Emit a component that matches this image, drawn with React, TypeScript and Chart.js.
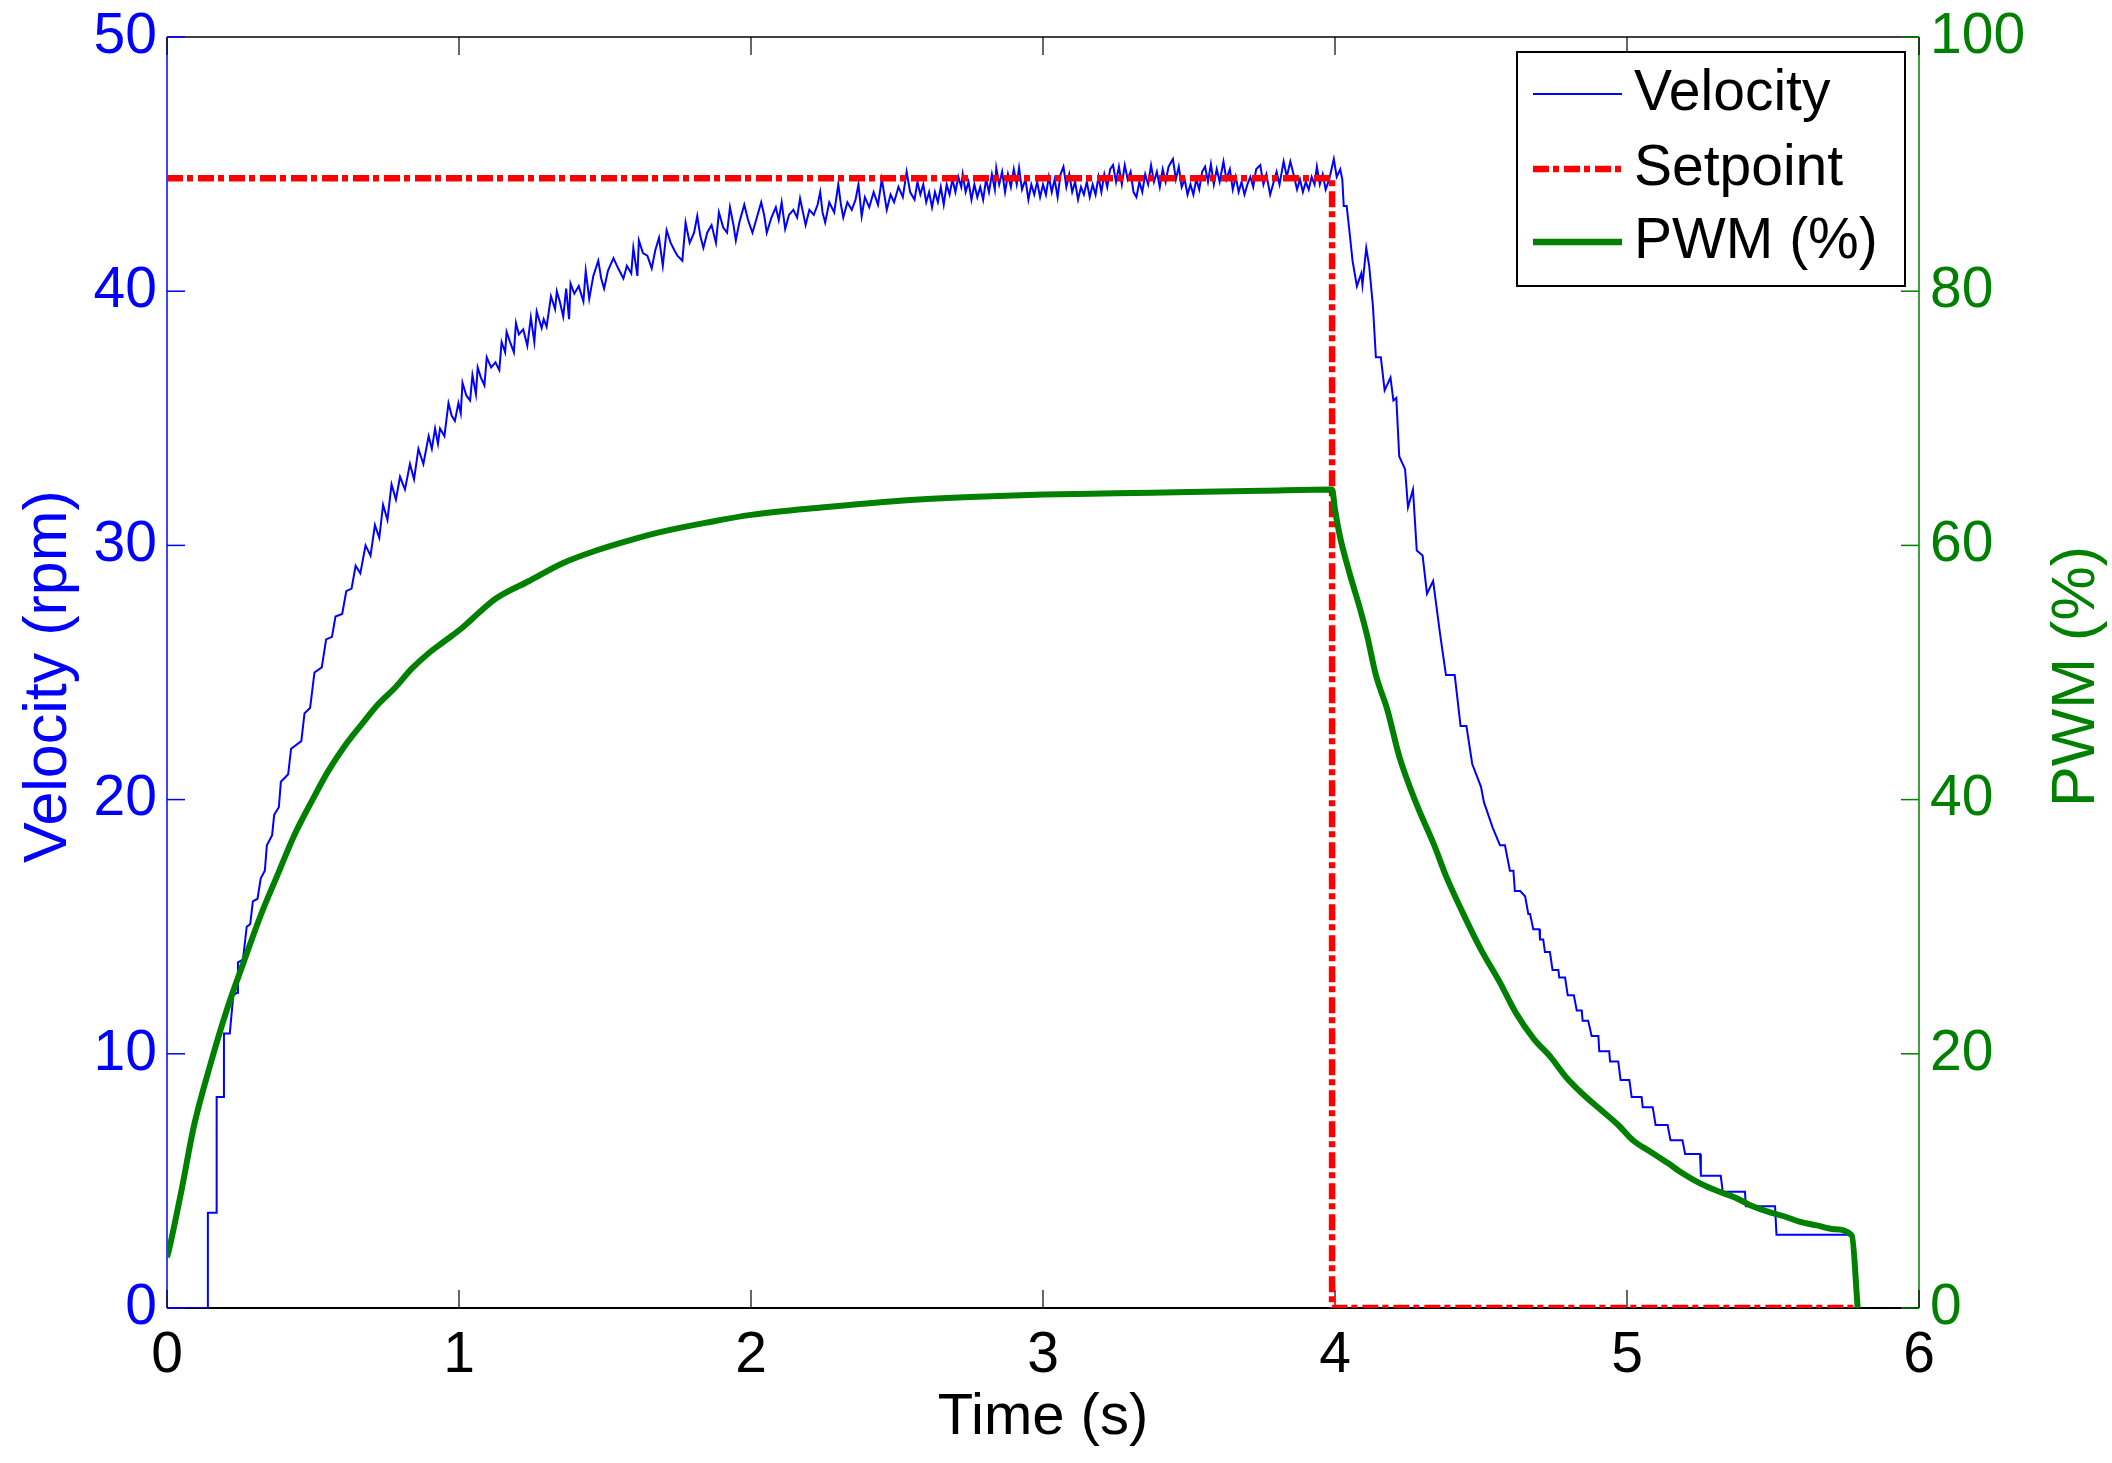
import React, { useEffect, useRef } from 'react';
import { Chart, registerables } from 'chart.js';

Chart.register(...registerables);

const FONT = "'Liberation Sans', Arial, Helvetica, sans-serif";
const FONT_SIZE = 57;
const BLUE = 'rgb(0,0,255)';
const RED = 'rgb(255,0,0)';
const GREEN = 'rgb(0,128,0)';

// tick values
const timeTicks = [0, 1, 2, 3, 4, 5, 6];
const velocityTicks = [0, 10, 20, 30, 40, 50];
const pwmTicks = [0, 20, 40, 60, 80, 100];

const seriesLabels = ['Velocity', 'Setpoint', 'PWM (%)'];

// [time (s), velocity (rpm)]
const velocity: [number, number][] = [
  [0, 0], [0.14, 0], [0.14, 3.75], [0.17, 3.75], [0.17, 8.3], [0.195, 8.3], [0.195, 10.8],
  [0.215, 10.8], [0.227, 12.3], [0.24, 12.4], [0.243, 13.6], [0.26, 13.7], [0.273, 15.0],
  [0.285, 15.1], [0.294, 16.0], [0.31, 16.1], [0.321, 16.9], [0.335, 17.2], [0.342, 18.2],
  [0.36, 18.6], [0.367, 19.4], [0.383, 19.7], [0.39, 20.7], [0.415, 21.0], [0.425, 22.0],
  [0.46, 22.3], [0.471, 23.4], [0.49, 23.6], [0.505, 25.0], [0.53, 25.2], [0.545, 26.3],
  [0.565, 26.4], [0.577, 27.2], [0.6, 27.3], [0.614, 28.2], [0.632, 28.3], [0.646, 29.2],
  [0.662, 28.9], [0.68, 30.0], [0.697, 29.6], [0.712, 30.8], [0.727, 30.3], [0.74, 31.6],
  [0.755, 31.0], [0.769, 32.4], [0.784, 31.8], [0.798, 32.7], [0.815, 32.2], [0.832, 33.2],
  [0.846, 32.6], [0.861, 33.8], [0.878, 33.2], [0.896, 34.3], [0.907, 33.8], [0.918, 34.6],
  [0.928, 34.0], [0.935, 34.6], [0.95, 34.3], [0.964, 35.6], [0.975, 35.1], [0.986, 34.9],
  [0.998, 35.6], [1.006, 35.2], [1.012, 36.4], [1.025, 35.9], [1.038, 35.7], [1.046, 36.7],
  [1.058, 35.95], [1.064, 37.0], [1.075, 36.6], [1.087, 36.3], [1.095, 37.4], [1.11, 37.0],
  [1.125, 37.2], [1.138, 36.9], [1.146, 38.0], [1.158, 37.6], [1.163, 38.4], [1.175, 38.0],
  [1.188, 37.6], [1.195, 38.75], [1.205, 38.3], [1.22, 38.5], [1.234, 37.85], [1.246, 38.96],
  [1.258, 38.0], [1.266, 39.2], [1.283, 38.55], [1.29, 38.9], [1.3, 38.6], [1.315, 39.8],
  [1.329, 39.3], [1.335, 40.0], [1.345, 39.6], [1.357, 39.0], [1.367, 40.1], [1.377, 38.9],
  [1.382, 40.3], [1.395, 39.9], [1.41, 40.2], [1.426, 39.6], [1.434, 40.8], [1.446, 39.7],
  [1.46, 40.6], [1.477, 41.2], [1.487, 40.5], [1.497, 40.1], [1.51, 40.8], [1.529, 41.3],
  [1.545, 40.9], [1.563, 40.5], [1.575, 41.0], [1.59, 40.7], [1.597, 41.7], [1.611, 40.6],
  [1.616, 42.0], [1.63, 41.5], [1.645, 41.4], [1.66, 40.9], [1.672, 41.6], [1.685, 42.1],
  [1.698, 41.0], [1.711, 42.4], [1.725, 41.9], [1.738, 41.6], [1.748, 41.4], [1.765, 41.2],
  [1.776, 42.7], [1.79, 41.9], [1.805, 42.3], [1.816, 42.96], [1.826, 42.2], [1.837, 41.7],
  [1.85, 42.3], [1.865, 42.6], [1.88, 41.9], [1.89, 43.1], [1.905, 42.5], [1.918, 42.3],
  [1.928, 43.3], [1.94, 42.6], [1.948, 42.0], [1.96, 42.7], [1.977, 43.4], [1.99, 42.8],
  [2.005, 42.3], [2.02, 42.9], [2.035, 43.5], [2.045, 43.0], [2.054, 42.3], [2.07, 42.9],
  [2.085, 43.3], [2.095, 42.8], [2.105, 43.5], [2.117, 42.45], [2.13, 43.0], [2.145, 43.2],
  [2.158, 42.9], [2.168, 43.65], [2.178, 43.1], [2.187, 42.6], [2.2, 43.2], [2.215, 43.0],
  [2.228, 43.4], [2.237, 43.9], [2.245, 43.1], [2.254, 42.7], [2.268, 43.5], [2.285, 43.1],
  [2.299, 44.2], [2.308, 43.4], [2.316, 42.9], [2.33, 43.5], [2.345, 43.2], [2.358, 43.6],
  [2.368, 44.2], [2.379, 42.95], [2.39, 43.7], [2.405, 43.3], [2.42, 43.9], [2.435, 43.4],
  [2.448, 44.4], [2.465, 43.2], [2.478, 43.8], [2.49, 43.5], [2.505, 44.1], [2.52, 43.7],
  [2.533, 44.7], [2.545, 43.9], [2.56, 43.6], [2.57, 44.3], [2.58, 43.8], [2.59, 44.2],
  [2.6, 43.5], [2.61, 43.9], [2.62, 43.3], [2.63, 43.9], [2.64, 43.5], [2.65, 44.1],
  [2.66, 43.4], [2.67, 44.2], [2.68, 43.8], [2.69, 44.4], [2.7, 43.9], [2.71, 44.5],
  [2.72, 44.1], [2.725, 44.6], [2.735, 43.9], [2.745, 44.3], [2.755, 43.6], [2.765, 44.2],
  [2.775, 43.7], [2.785, 44.1], [2.795, 43.6], [2.805, 44.4], [2.815, 43.9], [2.825, 44.6],
  [2.835, 44.0], [2.84, 44.85], [2.85, 44.2], [2.86, 44.7], [2.87, 43.9], [2.88, 44.6],
  [2.89, 44.1], [2.9, 44.8], [2.91, 44.2], [2.918, 44.85], [2.928, 44.0], [2.94, 44.4],
  [2.95, 43.6], [2.96, 44.2], [2.97, 43.8], [2.98, 44.3], [2.99, 43.7], [3.0, 44.2],
  [3.01, 43.8], [3.02, 44.5], [3.03, 43.9], [3.04, 44.4], [3.05, 43.7], [3.06, 44.6],
  [3.07, 44.9], [3.08, 44.1], [3.09, 44.6], [3.1, 43.9], [3.11, 44.3], [3.12, 43.6],
  [3.13, 44.1], [3.14, 43.8], [3.15, 44.3], [3.16, 43.7], [3.17, 44.2], [3.18, 43.8],
  [3.19, 44.5], [3.2, 43.9], [3.21, 44.6], [3.22, 44.1], [3.23, 44.8], [3.24, 44.96],
  [3.25, 44.3], [3.26, 44.9], [3.27, 44.2], [3.28, 44.96], [3.29, 44.4], [3.3, 44.7],
  [3.31, 43.9], [3.32, 43.7], [3.33, 44.3], [3.34, 43.9], [3.35, 44.6], [3.36, 44.2],
  [3.37, 44.96], [3.38, 44.3], [3.39, 44.7], [3.4, 44.1], [3.41, 44.8], [3.42, 44.3],
  [3.43, 44.9], [3.445, 45.2], [3.455, 44.4], [3.465, 44.9], [3.475, 44.1], [3.485, 44.4],
  [3.495, 43.8], [3.505, 44.2], [3.515, 43.8], [3.525, 44.4], [3.535, 44.0], [3.545, 44.7],
  [3.555, 44.9], [3.565, 44.3], [3.575, 45.0], [3.585, 44.2], [3.595, 44.8], [3.605, 44.3],
  [3.618, 45.1], [3.628, 44.4], [3.64, 44.8], [3.65, 44.0], [3.66, 44.5], [3.67, 43.9],
  [3.68, 44.3], [3.69, 43.8], [3.7, 44.2], [3.71, 44.5], [3.72, 44.1], [3.73, 44.8],
  [3.744, 44.96], [3.755, 44.2], [3.765, 44.6], [3.778, 43.8], [3.79, 44.3], [3.8, 44.7],
  [3.81, 44.2], [3.824, 45.1], [3.835, 44.5], [3.847, 45.1], [3.858, 44.6], [3.87, 44.0],
  [3.88, 44.4], [3.89, 43.9], [3.9, 44.3], [3.91, 44.0], [3.92, 44.5], [3.93, 44.2],
  [3.938, 44.9], [3.948, 44.2], [3.958, 44.6], [3.968, 44.0], [3.98, 44.4], [3.996, 45.2],
  [4.006, 44.5], [4.018, 44.8], [4.025, 44.4], [4.03, 43.35], [4.04, 43.35], [4.05, 42.3],
  [4.06, 41.2], [4.075, 40.2], [4.09, 40.7], [4.094, 40.25], [4.107, 41.7], [4.117, 41.0],
  [4.13, 39.4], [4.14, 37.4], [4.157, 37.4], [4.17, 36.1], [4.19, 36.6], [4.2, 35.7],
  [4.21, 35.8], [4.22, 33.5], [4.24, 33.0], [4.25, 31.5], [4.267, 32.2], [4.28, 29.8],
  [4.3, 29.6], [4.315, 28.1], [4.336, 28.6], [4.36, 26.5], [4.38, 24.9], [4.41, 24.9],
  [4.43, 22.9], [4.45, 22.9], [4.47, 21.4], [4.5, 20.5], [4.51, 19.9], [4.54, 18.9],
  [4.565, 18.2], [4.582, 18.2], [4.599, 17.2], [4.611, 17.2], [4.616, 16.4], [4.634, 16.4],
  [4.651, 16.2], [4.662, 15.5], [4.668, 15.5], [4.679, 14.9], [4.7, 14.9], [4.702, 14.5],
  [4.713, 14.5], [4.719, 14.0], [4.736, 14.0], [4.745, 13.3], [4.765, 13.3], [4.768, 13.0],
  [4.788, 13.0], [4.797, 12.3], [4.818, 12.3], [4.828, 11.7], [4.845, 11.7], [4.848, 11.3],
  [4.867, 11.3], [4.879, 10.7], [4.902, 10.7], [4.905, 10.1], [4.939, 10.1], [4.942, 9.7],
  [4.97, 9.7], [4.978, 8.97], [5.008, 8.97], [5.016, 8.3], [5.05, 8.3], [5.054, 7.9],
  [5.088, 7.9], [5.098, 7.2], [5.139, 7.2], [5.149, 6.6], [5.19, 6.6], [5.199, 6.06],
  [5.25, 6.06], [5.253, 5.2], [5.321, 5.2], [5.328, 4.57], [5.404, 4.57], [5.407, 4.0],
  [5.507, 4.0], [5.512, 2.88], [5.77, 2.88],
];

// [time (s), setpoint (rpm)]
const setpoint: [number, number][] = [
  [0, 44.44], [3.99, 44.44], [3.99, 0], [5.79, 0],
];

// [time (s), PWM (%)]
const pwm: [number, number][] = [
  [0, 4.0], [0.006, 4.5], [0.05, 9.3], [0.092, 14.3], [0.149, 19.2], [0.207, 23.6],
  [0.264, 27.3], [0.321, 30.9], [0.379, 34.1], [0.436, 37.2], [0.494, 39.8], [0.551, 42.2],
  [0.608, 44.2], [0.666, 45.9], [0.723, 47.5], [0.781, 48.8], [0.838, 50.3], [0.895, 51.5],
  [0.953, 52.5], [1.01, 53.5], [1.068, 54.7], [1.125, 55.8], [1.24, 57.2], [1.355, 58.6],
  [1.47, 59.6], [1.584, 60.4], [1.7, 61.1], [1.85, 61.8], [2.0, 62.4], [2.25, 63.0],
  [2.5, 63.5], [2.75, 63.8], [3.0, 64.0], [3.25, 64.1], [3.5, 64.2], [3.75, 64.3],
  [3.99, 64.4], [4.0, 62.8], [4.017, 60.7], [4.05, 57.8], [4.086, 55.0], [4.11, 52.9],
  [4.14, 49.8], [4.18, 47.0], [4.22, 43.4], [4.28, 39.6], [4.34, 36.4], [4.38, 34.0],
  [4.45, 30.5], [4.5, 28.2], [4.565, 25.6], [4.62, 23.2], [4.68, 21.2], [4.74, 19.7],
  [4.79, 18.2], [4.85, 16.8], [4.91, 15.6], [4.97, 14.4], [5.02, 13.2], [5.08, 12.3],
  [5.14, 11.4], [5.19, 10.6], [5.25, 9.8], [5.31, 9.2], [5.37, 8.7], [5.42, 8.1],
  [5.48, 7.6], [5.54, 7.2], [5.59, 6.8], [5.65, 6.5], [5.71, 6.2], [5.77, 5.7], [5.79, 0],
];

const toPoints = (arr: [number, number][]) => arr.map(([x, y]) => ({ x, y }));

const font = { family: FONT, size: FONT_SIZE };
// small line height on the y ticks so they don't push the plot area down
const yFont = { family: FONT, size: FONT_SIZE, lineHeight: 0.8 };

// axis box with inward ticks, matlab style
const framePlugin = {
  id: 'matlabFrame',
  beforeDatasetsDraw(chart: any) {
    const { ctx, chartArea: a, scales } = chart;
    const T = 18;
    const seg = (x1: number, y1: number, x2: number, y2: number, c: string, w: number) => {
      ctx.beginPath();
      ctx.strokeStyle = c;
      ctx.lineWidth = w;
      ctx.moveTo(x1, y1);
      ctx.lineTo(x2, y2);
      ctx.stroke();
    };
    ctx.save();
    ctx.lineCap = 'butt';
    seg(a.left, a.top, a.right, a.top, '#000', 1.5);
    seg(a.left, a.bottom, a.right, a.bottom, '#000', 2);
    seg(a.left, a.top, a.left, a.bottom, BLUE, 1.5);
    seg(a.right, a.top, a.right, a.bottom, GREEN, 1.5);
    timeTicks.forEach((t) => {
      const x = scales.x.getPixelForValue(t);
      seg(x, a.bottom, x, a.bottom - T, '#000', 1.2);
      seg(x, a.top, x, a.top + T, '#000', 1.2);
    });
    velocityTicks.forEach((v) => {
      const y = scales.y.getPixelForValue(v);
      seg(a.left, y, a.left + T, y, BLUE, 1.5);
    });
    pwmTicks.forEach((v) => {
      const y = scales.y2.getPixelForValue(v);
      seg(a.right, y, a.right - T, y, GREEN, 1.5);
    });
    ctx.restore();
  },
  afterDraw(chart: any) {
    const { ctx, chartArea: a } = chart;
    ctx.save();
    ctx.textBaseline = 'middle';
    ctx.textAlign = 'center';

    // axis titles
    ctx.font = `58px ${FONT}`;
    ctx.fillStyle = '#000';
    ctx.fillText('Time (s)', (a.left + a.right) / 2, a.bottom + 110);
    ctx.font = `61px ${FONT}`;
    const midY = (a.top + a.bottom) / 2 + 4;
    ctx.save();
    ctx.translate(49, midY);
    ctx.rotate(-Math.PI / 2);
    ctx.fillStyle = BLUE;
    ctx.fillText('Velocity (rpm)', 0, 0);
    ctx.restore();
    ctx.save();
    ctx.translate(a.right + 158, midY);
    ctx.rotate(-Math.PI / 2);
    ctx.fillStyle = GREEN;
    ctx.fillText('PWM (%)', 0, 0);
    ctx.restore();

    // legend
    ctx.font = `${FONT_SIZE}px ${FONT}`;
    const bw = 388;
    const bh = 234;
    const bx = a.right - 14 - bw;
    const by = a.top + 15;
    ctx.fillStyle = '#fff';
    ctx.fillRect(bx, by, bw, bh);
    ctx.strokeStyle = '#000';
    ctx.lineWidth = 2;
    ctx.strokeRect(bx, by, bw, bh);
    const rows = [42, 117, 190];
    const styles = [
      { c: BLUE, w: 2, dash: [] as number[] },
      { c: RED, w: 6.5, dash: [16, 4, 6, 5] },
      { c: GREEN, w: 6.5, dash: [] as number[] },
    ];
    seriesLabels.forEach((label, i) => {
      const y = by + rows[i];
      ctx.beginPath();
      ctx.setLineDash(styles[i].dash);
      ctx.strokeStyle = styles[i].c;
      ctx.lineWidth = styles[i].w;
      ctx.moveTo(bx + 16, y);
      ctx.lineTo(bx + 105, y);
      ctx.stroke();
      ctx.setLineDash([]);
      ctx.fillStyle = '#000';
      ctx.textAlign = 'left';
      ctx.fillText(label, bx + 117, y);
    });
    ctx.restore();
  },
};

const App = () => {
  const canvasRef = useRef<HTMLCanvasElement>(null);
  const chartRef = useRef<Chart | null>(null);

  useEffect(() => {
    if (!canvasRef.current) return;
    if (chartRef.current) chartRef.current.destroy();

    chartRef.current = new Chart(canvasRef.current, {
      type: 'line',
      data: {
        datasets: [
          {
            label: seriesLabels[0],
            data: toPoints(velocity),
            borderColor: BLUE,
            borderWidth: 2,
            pointRadius: 0,
            tension: 0,
            yAxisID: 'y',
            order: 3,
          },
          {
            label: seriesLabels[1],
            data: toPoints(setpoint),
            borderColor: RED,
            borderWidth: 6.5,
            borderDash: [16, 4, 6, 5],
            borderCapStyle: 'butt',
            pointRadius: 0,
            tension: 0,
            yAxisID: 'y',
            order: 2,
          },
          {
            label: seriesLabels[2],
            data: toPoints(pwm),
            borderColor: GREEN,
            borderWidth: 6,
            pointRadius: 0,
            cubicInterpolationMode: 'monotone',
            yAxisID: 'y2',
            order: 1,
          },
        ],
      },
      options: {
        responsive: false,
        devicePixelRatio: 1,
        animation: false,
        layout: { padding: { top: 37, left: 0, right: 0, bottom: 0 } },
        plugins: {
          legend: { display: false },
          tooltip: { enabled: false },
        },
        scales: {
          x: {
            type: 'linear',
            min: timeTicks[0],
            max: timeTicks[timeTicks.length - 1],
            grid: { display: false, drawTicks: false },
            border: { display: false },
            ticks: { stepSize: 1, color: '#000', font, padding: 14, maxRotation: 0 },
            afterFit: (axis: any) => { axis.height = 155; },
          },
          y: {
            type: 'linear',
            position: 'left',
            min: velocityTicks[0],
            max: velocityTicks[velocityTicks.length - 1],
            grid: { display: false, drawTicks: false },
            border: { display: false },
            ticks: { stepSize: 10, color: BLUE, font: yFont, padding: 10 },
            afterFit: (axis: any) => { axis.width = 167; },
          },
          y2: {
            type: 'linear',
            position: 'right',
            min: pwmTicks[0],
            max: pwmTicks[pwmTicks.length - 1],
            grid: { display: false, drawTicks: false },
            border: { display: false },
            ticks: { stepSize: 20, color: GREEN, font: yFont, padding: 11 },
            afterFit: (axis: any) => { axis.width = 193; },
          },
        },
      },
      plugins: [framePlugin],
    } as any);

    return () => {
      if (chartRef.current) {
        chartRef.current.destroy();
        chartRef.current = null;
      }
    };
  }, []);

  return (
    <div style={{ position: 'absolute', left: 0, top: 0, width: 2112, height: 1463, background: '#fff' }}>
      <canvas ref={canvasRef} width={2112} height={1463}></canvas>
    </div>
  );
};

export default App;
